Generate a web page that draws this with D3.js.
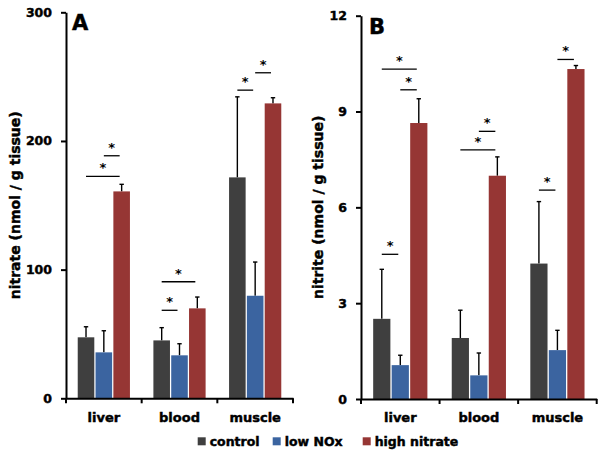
<!DOCTYPE html>
<html><head><meta charset="utf-8">
<script src="https://cdn.jsdelivr.net/npm/d3@7"></script>
<style>
html,body{margin:0;padding:0;background:#fff;}
svg{display:block;font-family:"DejaVu Sans",sans-serif;font-weight:bold;}
.heavy{stroke:#000;stroke-width:0.45px;paint-order:stroke;}
</style></head>
<body>
<script>
const categories = ["liver", "blood", "muscle"];
const seriesNames = ["control", "low NOx", "high nitrate"];
const seriesColors = ["#3f3f3f", "#3b64a0", "#963634"];

// Panel A: nitrate (nmol / g tissue)
const nitrateControl = [47.4, 45.0, 171.7];
const nitrateLowNOx = [35.7, 33.4, 79.7];
const nitrateHigh = [160.8, 69.9, 229.2];
const nitrateControlErr = [8.2, 9.9, 62.6];
const nitrateLowNOxErr = [16.8, 9.0, 26.2];
const nitrateHighErr = [5.5, 8.8, 4.4];
const nitrateTicks = [0, 100, 200, 300];
const nitrateSig = [
  {cat: "liver", a: 0, b: 2, y: 172.5},
  {cat: "liver", a: 1, b: 2, y: 188.5},
  {cat: "blood", a: 0, b: 2, y: 90.6},
  {cat: "blood", a: 0, b: 1, y: 68.4},
  {cat: "muscle", a: 0, b: 1, y: 239.5},
  {cat: "muscle", a: 1, b: 2, y: 253}
];

// Panel B: nitrite (nmol / g tissue)
const nitriteControl = [2.51, 1.91, 4.24];
const nitriteLowNOx = [1.06, 0.74, 1.53];
const nitriteHigh = [8.64, 6.99, 10.33];
const nitriteControlErr = [1.55, 0.87, 1.94];
const nitriteLowNOxErr = [0.31, 0.70, 0.62];
const nitriteHighErr = [0.76, 0.59, 0.11];
const nitriteTicks = [0, 3, 6, 9, 12];
const nitriteSig = [
  {cat: "liver", a: 0, b: 2, y: 10.33},
  {cat: "liver", a: 1, b: 2, y: 9.68},
  {cat: "liver", a: 0, b: 1, y: 4.53},
  {cat: "blood", a: 0, b: 2, y: 7.80},
  {cat: "blood", a: 1, b: 2, y: 8.38},
  {cat: "muscle", a: 0, b: 1, y: 6.54},
  {cat: "muscle", a: 1, b: 2, y: 10.63}
];

const svg = d3.select("body").append("svg").attr("width", 604).attr("height", 455);

function panel(opt) {
  const g = svg.append("g");
  const x0 = d3.scaleBand().domain(categories).range([opt.left, opt.right]).padding(0);
  const bw = x0.bandwidth();
  const x1 = d3.scaleBand().domain(d3.range(3)).range([0.155 * bw, 0.845 * bw]).paddingInner(0.07);
  const y = d3.scaleLinear().domain([0, opt.max]).range([opt.bottom, opt.top]);
  const vals = [opt.c, opt.l, opt.h];
  const errs = [opt.ce, opt.le, opt.he];
  const rows = [];
  categories.forEach((cat, i) => {
    for (let s = 0; s < 3; s++) rows.push({cat, s, v: vals[s][i], e: errs[s][i]});
  });
  // error bars (upper only)
  const eb = g.append("g").attr("stroke", "#000").attr("stroke-width", 1.4);
  rows.forEach(d => {
    const cx = x0(d.cat) + x1(d.s) + x1.bandwidth() / 2;
    eb.append("line").attr("x1", cx).attr("x2", cx).attr("y1", y(d.v)).attr("y2", y(d.v + d.e));
    eb.append("line").attr("x1", cx - 2.2).attr("x2", cx + 2.2).attr("y1", y(d.v + d.e)).attr("y2", y(d.v + d.e));
  });
  // bars
  g.append("g").selectAll("rect").data(rows).join("rect")
    .attr("x", d => x0(d.cat) + x1(d.s))
    .attr("width", x1.bandwidth())
    .attr("y", d => y(d.v))
    .attr("height", d => y(0) - y(d.v))
    .attr("fill", d => seriesColors[d.s]);
  // significance
  const sg = g.append("g");
  opt.sig.forEach(d => {
    const xa = x0(d.cat) + x1(d.a) + x1.bandwidth() / 2;
    const xb = x0(d.cat) + x1(d.b) + x1.bandwidth() / 2 - 2;
    sg.append("line").attr("x1", xa).attr("x2", xb).attr("y1", y(d.y)).attr("y2", y(d.y))
      .attr("stroke", "#000").attr("stroke-width", 1.3);
    sg.append("text").attr("x", (xa + xb) / 2).attr("y", y(d.y) - 4)
      .attr("text-anchor", "middle").attr("font-size", 13)
      .attr("fill", "#000").text("*");
  });
  // y axis
  const ya = g.append("g").attr("transform", `translate(${opt.left},0)`)
    .call(d3.axisLeft(y).tickValues(opt.ticks).tickSize(5).tickPadding(9).tickSizeOuter(0));
  ya.select(".domain").attr("stroke", "#000").attr("stroke-width", 2);
  ya.selectAll(".tick line").attr("stroke", "#000").attr("stroke-width", 2);
  ya.selectAll("text").attr("class", "heavy").attr("font-size", 12.5).attr("font-family", "DejaVu Sans").attr("font-weight", "bold").attr("fill", "#000");
  // x axis
  const xa = g.append("g").attr("transform", `translate(0,${opt.bottom})`)
    .call(d3.axisBottom(x0).tickSize(0).tickPadding(14).tickSizeOuter(0));
  xa.select(".domain").attr("stroke", "#000").attr("stroke-width", 2);
  xa.selectAll("text").attr("class", "heavy").attr("font-size", 13).attr("font-family", "DejaVu Sans").attr("font-weight", "bold").attr("fill", "#000");
  const bounds = categories.map(c => x0(c)).concat([x0.range()[1]]);
  xa.append("g").selectAll("line").data(bounds).join("line")
    .attr("x1", d => d).attr("x2", d => d).attr("y1", 0).attr("y2", 5)
    .attr("stroke", "#000").attr("stroke-width", 2);
  // y title
  g.append("text").attr("class", "heavy")
    .attr("transform", `translate(${opt.titleX},${(opt.top + opt.bottom) / 2}) rotate(-90)`)
    .attr("text-anchor", "middle").attr("dominant-baseline", "central")
    .attr("font-size", 14).attr("fill", "#000").text(opt.title);
  // panel letter
  g.append("text").attr("class", "heavy").attr("x", opt.letterX).attr("y", opt.letterY)
    .attr("font-size", 21).attr("fill", "#000").text(opt.letter);
}

panel({left: 66, right: 293, top: 12.3, bottom: 398.3, max: 300, ticks: nitrateTicks,
  c: nitrateControl, l: nitrateLowNOx, h: nitrateHigh,
  ce: nitrateControlErr, le: nitrateLowNOxErr, he: nitrateHighErr,
  sig: nitrateSig, title: "nitrate (nmol / g tissue)", titleX: 15, letter: "A", letterX: 72, letterY: 30});
panel({left: 361, right: 596.7, top: 15.7, bottom: 399, max: 12, ticks: nitriteTicks,
  c: nitriteControl, l: nitriteLowNOx, h: nitriteHigh,
  ce: nitriteControlErr, le: nitriteLowNOxErr, he: nitriteHighErr,
  sig: nitriteSig, title: "nitrite (nmol / g tissue)", titleX: 318, letter: "B", letterX: 369, letterY: 33.5});

// legend
const legX = [197.7, 272.7, 362.7];
const leg = svg.append("g");
seriesNames.forEach((n, i) => {
  leg.append("rect").attr("x", legX[i]).attr("y", 437.3).attr("width", 8).attr("height", 8).attr("fill", seriesColors[i]);
  leg.append("text").attr("class", "heavy").attr("x", legX[i] + 12).attr("y", 445.5).attr("font-size", 12.5).attr("fill", "#000").text(n);
});
</script>
</body></html>
